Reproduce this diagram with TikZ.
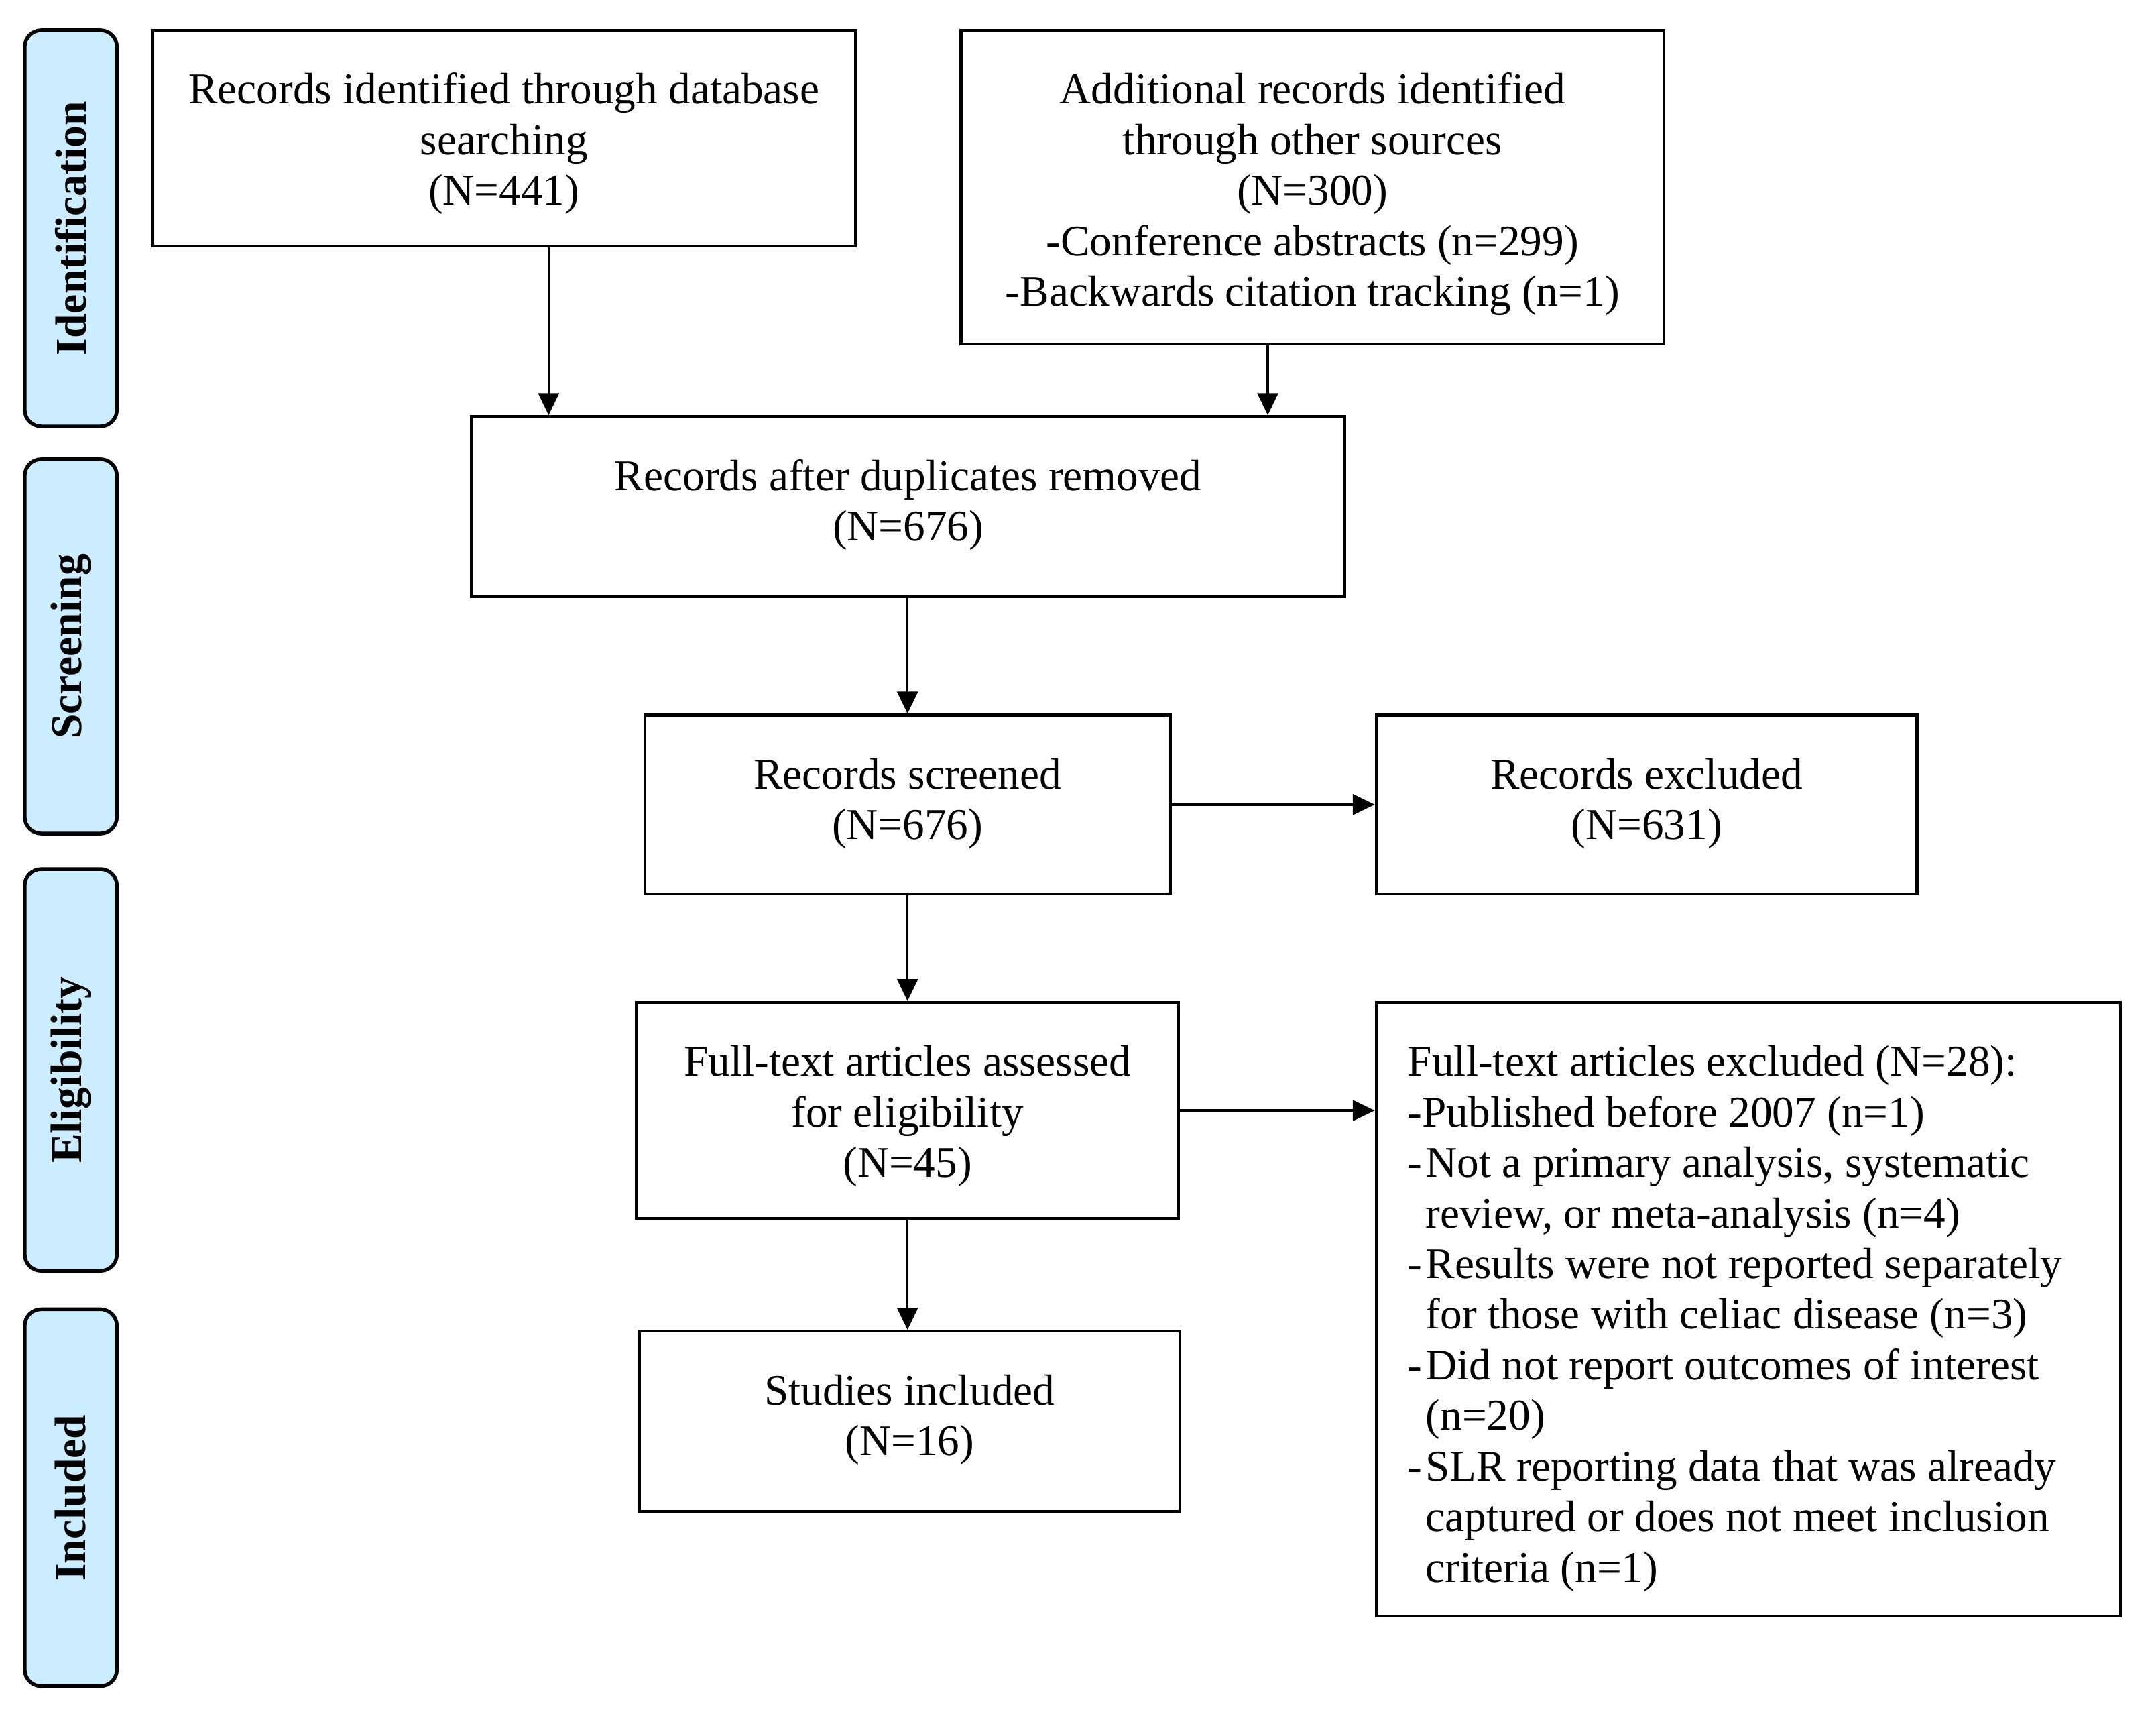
\documentclass[tikz,border=0pt]{standalone}
\usepackage{fontspec}
\setmainfont{Liberation Serif}
\usetikzlibrary{arrows.meta}
\definecolor{tabblue}{RGB}{204,236,255}
\newcommand{\bt}[3]{\parbox[c][#2][t]{#1}{\centering\rule{0pt}{0.535cm}#3}}
\newcommand{\dl}{\makebox[0.13cm][l]{-}}
\newcommand{\il}{\makebox[0.13cm][l]{}}
\begin{document}
\begin{tikzpicture}[x=0.01cm,y=-0.01cm,
  box/.style={draw=black,line width=0.6pt,rectangle,inner sep=0pt,
    font=\fontsize{9.05}{10.46}\selectfont},
  tab/.style={draw=black,line width=0.75pt,fill=tabblue,rounded corners=0.12cm,
    rotate=90,inner sep=0pt,minimum height=0.67cm,
    font=\fontsize{9.1}{10.6}\selectfont\bfseries},
  arr/.style={line width=0.5pt,-{Triangle[length=1.6mm,width=1.5mm]}}]
\useasboundingbox (0,0) rectangle (1568,1252);
% phase tabs
\node[tab,minimum width=2.88cm] (t1) at (51.5,166) {Identification};
\node[tab,minimum width=2.72cm] (t2) at (51.5,470) {Screening};
\node[tab,minimum width=2.92cm] (t3) at (51.5,778) {Eligibility};
\node[tab,minimum width=2.74cm] (t4) at (51.5,1089) {Included};
% boxes
\node[box] (b1) at (366.5,100.5)
  {\bt{5.11cm}{1.57cm}{Records identified through database\\searching\\(N=441)}};
\node[box] (b2) at (954.5,136)
  {\bt{5.11cm}{2.28cm}{Additional records identified\\through other sources\\(N=300)\\-Conference abstracts (n=299)\\-Backwards citation tracking (n=1)}};
\node[box] (b3) at (660.5,368.5)
  {\bt{6.35cm}{1.31cm}{Records after duplicates removed\\(N=676)}};
\node[box] (b4) at (660,585)
  {\bt{3.82cm}{1.30cm}{Records screened\\(N=676)}};
\node[box] (b5) at (1197.5,585)
  {\bt{3.93cm}{1.30cm}{Records excluded\\(N=631)}};
\node[box] (b6) at (660,807.5)
  {\bt{3.94cm}{1.57cm}{Full-text articles assessed\\for eligibility\\(N=45)}};
\node[box] (b8) at (661.5,1033.5)
  {\bt{3.93cm}{1.31cm}{Studies included\\(N=16)}};
\node[box,inner xsep=0.23cm] (b7) at (1271.5,952)
  {\parbox[c][4.46cm][t]{4.95cm}{\raggedright\rule{0pt}{0.535cm}Full-text articles excluded (N=28):\\
   -Published before 2007 (n=1)\\
   \dl Not a primary analysis, systematic\\
   \il review, or meta-analysis (n=4)\\
   \dl Results were not reported separately\\
   \il for those with celiac disease (n=3)\\
   \dl Did not report outcomes of interest\\
   \il (n=20)\\
   \dl SLR reporting data that was already\\
   \il captured or does not meet inclusion\\
   \il criteria (n=1)}};
% connector columns
\coordinate (c1) at (399,0);
\coordinate (c2) at (922,0);
% connectors
\draw[arr] (b1.south -| c1) -- (b3.north -| c1);
\draw[arr] (b2.south -| c2) -- (b3.north -| c2);
\draw[arr] (b3.south -| b4.north) -- (b4.north);
\draw[arr] (b4.east) -- (b5.west);
\draw[arr] (b4.south) -- (b6.north);
\draw[arr] (b6.east) -- (b6.east -| b7.west);
\draw[arr] (b6.south) -- (b8.north -| b6.south);
\end{tikzpicture}
\end{document}
